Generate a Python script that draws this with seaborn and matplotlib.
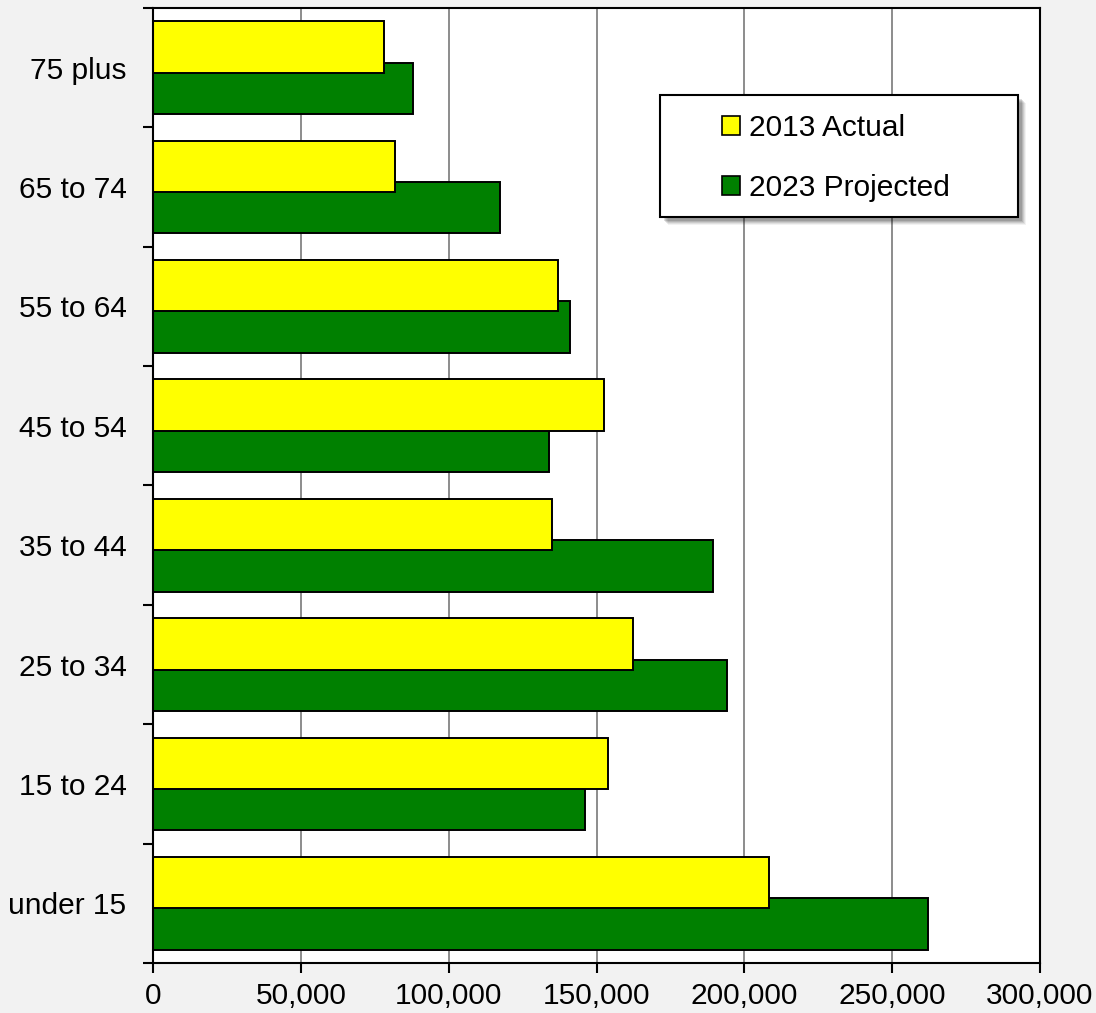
import numpy as np
import pandas as pd
import matplotlib
matplotlib.use("Agg")
import matplotlib.pyplot as plt
from matplotlib.patches import Patch, Rectangle
import seaborn as sns

# Population by age group
age_groups = ["75 plus", "65 to 74", "55 to 64", "45 to 54",
              "35 to 44", "25 to 34", "15 to 24", "under 15"]
actual_2013 = [78000, 82000, 137000, 152500, 135000, 162500, 154000, 208500]
projected_2023 = [88000, 117500, 141000, 134000, 189500, 194000, 146000, 262000]
series_names = ["2013 Actual", "2023 Projected"]
series_colors = ["#FFFF00", "#008000"]
x_ticks = [0, 50000, 100000, 150000, 200000, 250000, 300000]

W, H = 1096, 1013
FS = 21.5

sns.set_theme(style="white")
plt.rcParams["font.family"] = ["Liberation Sans", "DejaVu Sans"]
plt.rcParams["text.color"] = "black"

fig = plt.figure(figsize=(W / 100, H / 100), dpi=100, facecolor="#f2f2f2")
ax = fig.add_axes([153 / W, 1 - 963 / H, (1040 - 153) / W, (963 - 8) / H])
ax.set_facecolor("white")

slot = np.arange(len(age_groups))
shift = 0.173
bar_h = 0.43

df = pd.DataFrame({
    "group": age_groups * 2,
    "series": [series_names[0]] * len(age_groups) + [series_names[1]] * len(age_groups),
    "value": actual_2013 + projected_2023,
    "pos": list(slot - shift) + list(slot + shift),
})

# projected bars first so the actual bars sit on top where they overlap
for name, color in [(series_names[1], series_colors[1]), (series_names[0], series_colors[0])]:
    sub = df[df["series"] == name]
    sns.barplot(data=sub, x="value", y="pos", orient="h", native_scale=True,
                width=bar_h, color=color, saturation=1, edgecolor="black",
                linewidth=1.4, errorbar=None, ax=ax)

ax.set_xlim(0, 300000)
ax.set_ylim(len(age_groups) - 0.5, -0.5)
ax.set_xlabel("")
ax.set_ylabel("")

ax.set_axisbelow(True)
ax.xaxis.grid(True, color="#8c8c8c", linewidth=1.4)
ax.yaxis.grid(False)

ax.set_xticks(x_ticks)
ax.set_xticklabels([f"{v:,}" for v in x_ticks])
ax.tick_params(axis="x", which="major", bottom=True, direction="out",
               length=7, width=1.5, color="black", pad=7, labelsize=FS,
               labelcolor="black")

ax.set_yticks(np.arange(-0.5, len(age_groups), 1.0))
ax.set_yticklabels([])
ax.set_yticks(slot, minor=True)
ax.set_yticklabels(age_groups, minor=True)
ax.tick_params(axis="y", which="major", left=True, direction="out",
               length=7, width=1.5, color="black")
ax.tick_params(axis="y", which="minor", left=True, length=0, pad=19,
               labelsize=FS, labelcolor="black")

for sp in ax.spines.values():
    sp.set_visible(True)
    sp.set_color("black")
    sp.set_linewidth(1.5)

# legend box with soft drop shadow
bx0, by0, bx1, by1 = 660, 95, 1018, 217
for off, a in [(8, 0.05), (7, 0.07), (6, 0.09), (5, 0.11), (4, 0.13)]:
    fig.add_artist(Rectangle(((bx0 + off) / W, 1 - (by1 + off) / H),
                             (bx1 - bx0) / W, (by1 - by0) / H,
                             transform=fig.transFigure, facecolor="#000000",
                             edgecolor="none", alpha=a, zorder=2))
fig.add_artist(Rectangle((bx0 / W, 1 - by1 / H), (bx1 - bx0) / W, (by1 - by0) / H,
                         transform=fig.transFigure, facecolor="white",
                         edgecolor="black", linewidth=1.5, zorder=3))

handles = [Patch(facecolor=c, edgecolor="black", linewidth=1.2) for c in series_colors]
fig.legend(handles, series_names, loc="center left",
           bbox_to_anchor=(722 / W, 1 - 158 / H), frameon=False,
           handlelength=0.6, handleheight=0.6, handletextpad=0.3,
           labelspacing=1.08, borderpad=0, borderaxespad=0, fontsize=FS,
           labelcolor="black")

fig.savefig("out.png", dpi=100, facecolor=fig.get_facecolor())
